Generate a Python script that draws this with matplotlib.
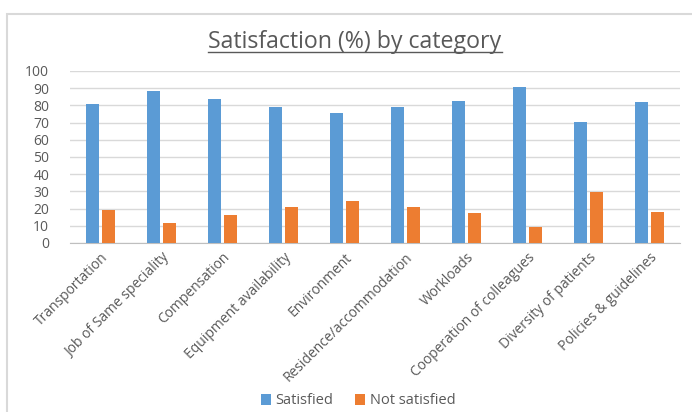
import numpy as np
import matplotlib
matplotlib.use("Agg")
import matplotlib.pyplot as plt
from matplotlib.patches import Rectangle
from matplotlib.lines import Line2D

categories = ["Transportation", "Job of Same speciality", "Compensation",
              "Equipment availability", "Environment", "Residence/accommodation",
              "Workloads", "Cooperation of colleagues", "Diversity of patients",
              "Policies & guidelines"]
satisfied = [81, 88.5, 83.5, 78.8, 75.4, 79.2, 82.5, 90.8, 70.4, 82]
not_satisfied = [19, 11.5, 16.5, 21.2, 24.6, 20.8, 17.5, 9.2, 29.6, 18]

blue = "#5B9BD5"
orange = "#ED7D31"
gray_txt = "#595959"

plt.rcParams['font.family'] = ['Open Sans', 'DejaVu Sans']

fig = plt.figure(figsize=(6.92, 4.12), dpi=100)
ax = fig.add_axes([70/692, 1 - 243/412, 610/692, 172/412])

x = np.arange(len(categories))
bw = 0.213
off = 0.139
ax.bar(x - off, satisfied, bw, color=blue, label="Satisfied", zorder=3)
ax.bar(x + off, not_satisfied, bw, color=orange, label="Not satisfied", zorder=3)

ax.set_xlim(-0.5, len(categories) - 0.5)
ax.set_ylim(0, 100)
ax.set_yticks(np.arange(0, 101, 10))
ax.yaxis.grid(True, color="#D9D9D9", lw=1, zorder=0)
ax.set_axisbelow(True)
for s in ["top", "right", "left"]:
    ax.spines[s].set_visible(False)
ax.spines["bottom"].set_color("#BFBFBF")
ax.tick_params(axis="both", length=0, colors=gray_txt, labelsize=10)
ax.tick_params(axis="y", pad=15)
ax.set_xticks(x)
ax.set_xticklabels(categories, rotation=45, ha="right", rotation_mode="anchor", fontsize=10)
ax.tick_params(axis="x", pad=5)

# title with underline
title = fig.text(355/692, 1 - 42/412, "Satisfaction (%) by category", ha="center",
                 va="center", fontsize=16.7, color=gray_txt)
fig.canvas.draw()
bb = title.get_window_extent().transformed(fig.transFigure.inverted())
uy = bb.y0 + 0.006
fig.add_artist(Line2D([bb.x0, bb.x1], [uy, uy], transform=fig.transFigure,
                      color=gray_txt, lw=1))

leg = fig.legend(loc="center", bbox_to_anchor=(358/692, 1 - 401/412), ncol=2,
                 frameon=False, fontsize=10.5, handlelength=0.7, handleheight=0.7,
                 handletextpad=0.3, columnspacing=1.5, labelcolor=gray_txt)

# outer chart frame
fig.add_artist(Rectangle((7/692, -0.1), 1.2, (412 - 14)/412 + 0.1,
                         transform=fig.transFigure, fill=False,
                         edgecolor="#D9D9D9", lw=1.5))

fig.savefig("out.png", dpi=100)
